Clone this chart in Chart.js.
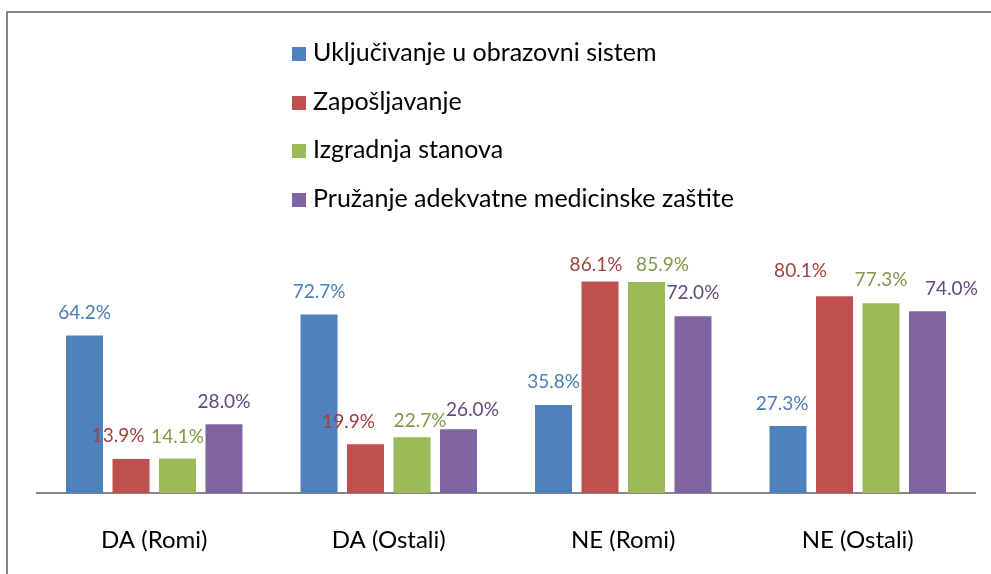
<!DOCTYPE html>
<html>
<head>
<meta charset="utf-8">
<script src="https://cdn.jsdelivr.net/npm/chart.js@4/dist/chart.umd.min.js"></script>
<style>
  html, body { margin: 0; padding: 0; background: #fff; }
  #wrap { position: relative; width: 991px; height: 574px; overflow: hidden; background: #fff; }
  #frame { position: absolute; left: 6px; top: 11px; width: 1200px; height: 800px;
           border-left: 2px solid #868686; border-top: 2px solid #868686; }
  canvas { position: absolute; left: 0; top: 0; }
  #legend { position: absolute; left: 292px; top: 35px; font-family: Lato, "Open Sans", sans-serif;
            font-size: 25px; color: #000; }
  .li { position: absolute; left: 0; white-space: nowrap; height: 32px; line-height: 32px; }
  .sw { display: inline-block; width: 14px; height: 14px; margin-right: 7px; vertical-align: 0px; }
</style>
</head>
<body>
<div id="wrap">
  <div id="frame"></div>
  <canvas id="c" width="991" height="574"></canvas>
  <div id="legend"></div>
</div>
<script>
const categories = ["DA (Romi)", "DA (Ostali)", "NE (Romi)", "NE (Ostali)"];
const seriesNames = ["Uključivanje u obrazovni sistem", "Zapošljavanje", "Izgradnja stanova", "Pružanje adekvatne medicinske zaštite"];
const obrazovanje = [64.2, 72.7, 35.8, 27.3];
const zaposljavanje = [13.9, 19.9, 86.1, 80.1];
const stanovi = [14.1, 22.7, 85.9, 77.3];
const medicina = [28.0, 26.0, 72.0, 74.0];

const barColors = ["#4F81BD", "#C0504D", "#9BBB59", "#8064A2"];
const labelColors = ["#4A7EBB", "#A0413D", "#7F9A48", "#5F4A7E"];
const seriesData = [obrazovanje, zaposljavanje, stanovi, medicina];

// legend (HTML)
const lg = document.getElementById('legend');
seriesNames.forEach((n, i) => {
  const d = document.createElement('div');
  d.className = 'li';
  d.style.top = (i * 48.5) + 'px';
  d.innerHTML = '<span class="sw" style="background:' + barColors[i] + '"></span>' + n;
  lg.appendChild(d);
});

// label placement tweaks [dx, gap above bar] (Excel moved overlapping labels)
const defaultGap = 23;
const labelNudge = {
  "1-0": [-13, 23], "2-0": [0, 22], "3-0": [0, 22],
  "1-1": [-17, 22], "2-1": [8, 16], "3-1": [14, 19],
  "1-2": [-4, 17], "2-2": [16, 17],
  "0-3": [-6, 22], "1-3": [-34, 25], "3-3": [24, 22]
};

const labelPlugin = {
  id: 'valLabels',
  afterDatasetsDraw(chart) {
    const ctx = chart.ctx;
    ctx.save();
    ctx.font = '19px Lato, "Open Sans", sans-serif';
    ctx.textAlign = 'center';
    ctx.textBaseline = 'middle';
    chart.data.datasets.forEach((ds, di) => {
      const meta = chart.getDatasetMeta(di);
      meta.data.forEach((bar, i) => {
        const v = ds.data[i];
        const nd = labelNudge[di + '-' + i] || [0, defaultGap];
        ctx.fillStyle = labelColors[di];
        ctx.fillText(v.toFixed(1) + '%', bar.x + nd[0], bar.y - nd[1]);
      });
    });
    ctx.restore();
  }
};

new Chart(document.getElementById('c'), {
  type: 'bar',
  data: {
    labels: categories,
    datasets: seriesNames.map((n, i) => ({
      label: n,
      data: seriesData[i],
      backgroundColor: barColors[i],
      borderWidth: 0,
      categoryPercentage: 0.793,
      barPercentage: 0.796
    }))
  },
  options: {
    responsive: false,
    animation: false,
    layout: { padding: { left: 37, right: 16, top: 247.5, bottom: 0 } },
    plugins: { legend: { display: false }, tooltip: { enabled: false } },
    scales: {
      x: {
        grid: { display: false, drawTicks: false },
        border: { display: true, color: '#868686', width: 2 },
        ticks: { color: '#000', padding: 33, font: { family: 'Lato, "Open Sans", sans-serif', size: 24 } },
        afterFit(s) { s.height = 81; }
      },
      y: {
        display: false,
        min: 0, max: 100
      }
    }
  },
  plugins: [labelPlugin]
});
</script>
</body>
</html>
